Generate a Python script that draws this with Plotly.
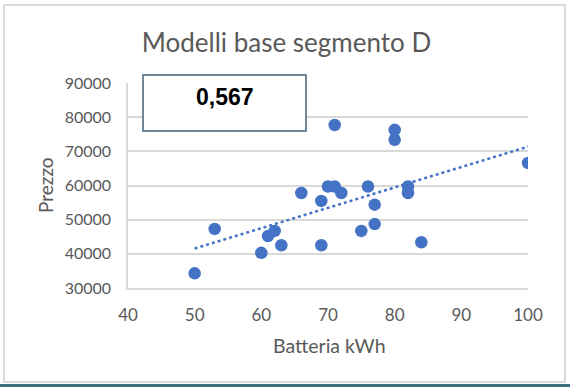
import numpy as np
import plotly.graph_objects as go

batteria = [50, 53, 60, 61, 62, 63, 66, 69, 69, 70, 71, 71, 72, 75, 76, 77, 77, 80, 80, 82, 82, 84, 100]
prezzo = [34300, 47300, 40300, 45200, 46700, 42500, 57800, 55500, 42500, 59700, 77700, 59700,
          57800, 46700, 59700, 54400, 48700, 76300, 73400, 59700, 57800, 43400, 66600]
box_text = "0,567"
title_text = "Modelli base segmento D"
x_title = "Batteria kWh"
y_title = "Prezzo"

BLUE = "#4472C4"
GREY = "#595959"
FONT = "Lato, Open Sans, sans-serif"

coef = np.polyfit(batteria, prezzo, 1)
tx = np.array([min(batteria), max(batteria)])
ty = np.polyval(coef, tx)

fig = go.Figure()
fig.add_trace(go.Scatter(x=batteria, y=prezzo, mode="markers",
                         marker=dict(size=12.5, color=BLUE), showlegend=False, hoverinfo="x+y"))
fig.add_trace(go.Scatter(x=tx, y=ty, mode="lines",
                         line=dict(color=BLUE, width=2.5, dash="dot"), showlegend=False))

L, R, T, B = 128, 42, 83, 99
W, H = 570, 387
pw, ph = W - L - R, H - T - B

def px(x):
    return (x - L) / pw

def py(y):
    return (H - B - y) / ph

fig.update_layout(
    width=W, height=H,
    margin=dict(l=L, r=R, t=T, b=B, autoexpand=False),
    paper_bgcolor="white", plot_bgcolor="white",
    font=dict(family=FONT, color=GREY, size=17),
    title=dict(text=title_text, x=px(286.5), xref="paper", xanchor="center", y=1 - 43 / H,
               yanchor="middle", yref="container", font=dict(size=26, color=GREY, family=FONT)),
    xaxis=dict(range=[40, 100], dtick=10, showgrid=False, zeroline=False,
               showline=True, linecolor="#d9d9d9", linewidth=1.5, automargin=False,
               ticks="", ticklabelstandoff=11, tickfont=dict(size=17, color=GREY)),
    yaxis=dict(range=[30000, 90000], dtick=10000, tickformat="d", showgrid=True,
               gridcolor="#d9d9d9", gridwidth=1.5, zeroline=False, showline=True,
               linecolor="#d9d9d9", linewidth=1.5, ticks="", ticklabelstandoff=12,
               automargin=False, tickfont=dict(size=16, color=GREY)),
    shapes=[
        dict(type="rect", xref="paper", yref="paper", x0=px(4), x1=px(565), y0=py(382), y1=py(5),
             line=dict(color="#d0d0d0", width=1.5), layer="below"),
        dict(type="line", xref="paper", yref="paper", x0=px(0), x1=px(570), y0=py(385.5), y1=py(385.5),
             line=dict(color="#3b6f80", width=3)),
        dict(type="rect", xref="paper", yref="paper", x0=px(143), x1=px(306), y0=py(131), y1=py(75),
             line=dict(color="#41627a", width=1.5), fillcolor="white", layer="above"),
    ],
    annotations=[
        dict(text=box_text, xref="paper", yref="paper", x=px(224.5), y=py(97), showarrow=False,
             xanchor="center", yanchor="middle",
             font=dict(family="Liberation Sans, Arial, sans-serif", size=23, color="black", weight="bold")),
        dict(text=y_title, xref="paper", yref="paper", x=px(45), y=py(185), showarrow=False,
             textangle=-90, xanchor="center", yanchor="middle", font=dict(size=19, color=GREY)),
        dict(text=x_title, xref="paper", yref="paper", x=px(329), y=py(345), showarrow=False,
             xanchor="center", yanchor="middle", font=dict(size=19.5, color=GREY)),
    ],
)

fig.write_html("out.html", config={"displayModeBar": False},
               post_script="document.body.style.margin='0';")
